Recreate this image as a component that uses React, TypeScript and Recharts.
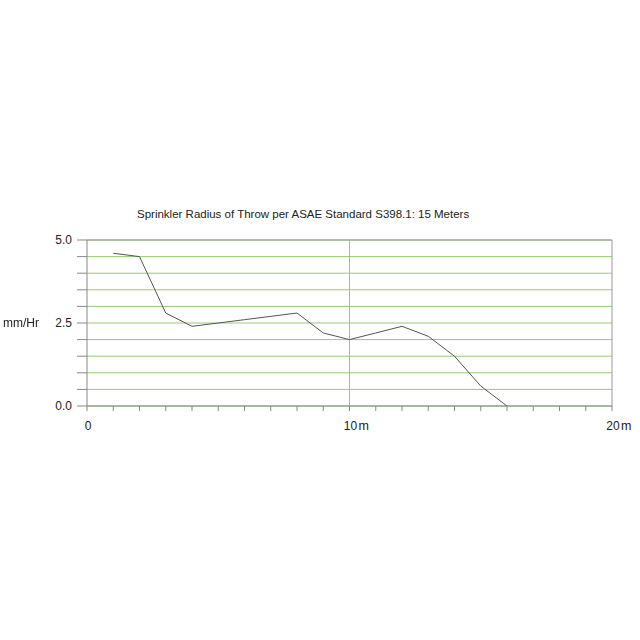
import { CartesianGrid, Line, LineChart, ReferenceLine, XAxis, YAxis } from 'recharts';

const distances = [1, 2, 3, 4, 5, 6, 7, 8, 9, 10, 11, 12, 13, 14, 15, 16];
const rates = [4.6, 4.5, 2.8, 2.4, 2.5, 2.6, 2.7, 2.8, 2.2, 2.0, 2.2, 2.4, 2.1, 1.5, 0.6, 0.0];
const xTicks = [0, 1, 2, 3, 4, 5, 6, 7, 8, 9, 10, 11, 12, 13, 14, 15, 16, 17, 18, 19, 20];
const yTicks = [0, 0.5, 1, 1.5, 2, 2.5, 3, 3.5, 4, 4.5, 5];
const xLabelled = [0, 10, 20];
const yLabelled = [0, 2.5, 5];

const data = distances.map((d, i) => ({ d, rate: rates[i] }));

const font = '"Liberation Sans", Arial, sans-serif';

const XTick = ({ x, y, payload }: any) => {
  if (!xLabelled.includes(payload.value)) return null;
  return (
    <g>
      <text x={x + 1} y={y + 17} textAnchor="middle" fontSize={12} fill="#222" fontFamily={font}>
        {payload.value}
      </text>
      {payload.value > 0 ? (
        <text x={x + 9} y={y + 17} textAnchor="start" fontSize={12.5} fill="#222" fontFamily={font}>
          m
        </text>
      ) : null}
    </g>
  );
};

const YTick = ({ x, y, payload }: any) => {
  if (!yLabelled.includes(payload.value)) return null;
  return (
    <text x={x} y={y} dy={4} textAnchor="end" fontSize={12} fill="#222" fontFamily={font}>
      {payload.value.toFixed(1)}
    </text>
  );
};

export default function App() {
  return (
    <div style={{ position: 'relative', width: 632, height: 460, fontFamily: font }}>
      <LineChart width={632} height={460} data={data} margin={{ top: 232, right: 28, left: 0, bottom: 32 }}>
        <CartesianGrid vertical={false} stroke="#94cc74" />
        <XAxis
          dataKey="d"
          type="number"
          domain={[0, 20]}
          ticks={xTicks}
          interval={0}
          tickSize={5}
          tickMargin={2}
          height={30}
          stroke="#888"
          tick={<XTick />}
        />
        <YAxis
          type="number"
          domain={[0, 5]}
          ticks={yTicks}
          interval={0}
          width={79}
          tickSize={10}
          tickMargin={5}
          stroke="#888"
          tick={<YTick />}
        />
        <ReferenceLine x={10} stroke="#94cc74" />
        <ReferenceLine y={5} stroke="#999" />
        <ReferenceLine x={20} stroke="#999" />
        <Line dataKey="rate" type="linear" stroke="#555" strokeWidth={1} dot={false} isAnimationActive={false} />
      </LineChart>
      <div style={{ position: 'absolute', zIndex: 2, left: 129, top: 200, fontSize: 11.5, color: '#222', whiteSpace: 'nowrap' }}>
        Sprinkler Radius of Throw per ASAE Standard S398.1: 15 Meters
      </div>
      {/* fixed so it can sit in the page margin, left of the root */}
      <div style={{ position: 'fixed', zIndex: 2, left: 3, top: 316, fontSize: 12, color: '#222', whiteSpace: 'nowrap', fontFamily: font }}>
        mm/Hr
      </div>
    </div>
  );
}
